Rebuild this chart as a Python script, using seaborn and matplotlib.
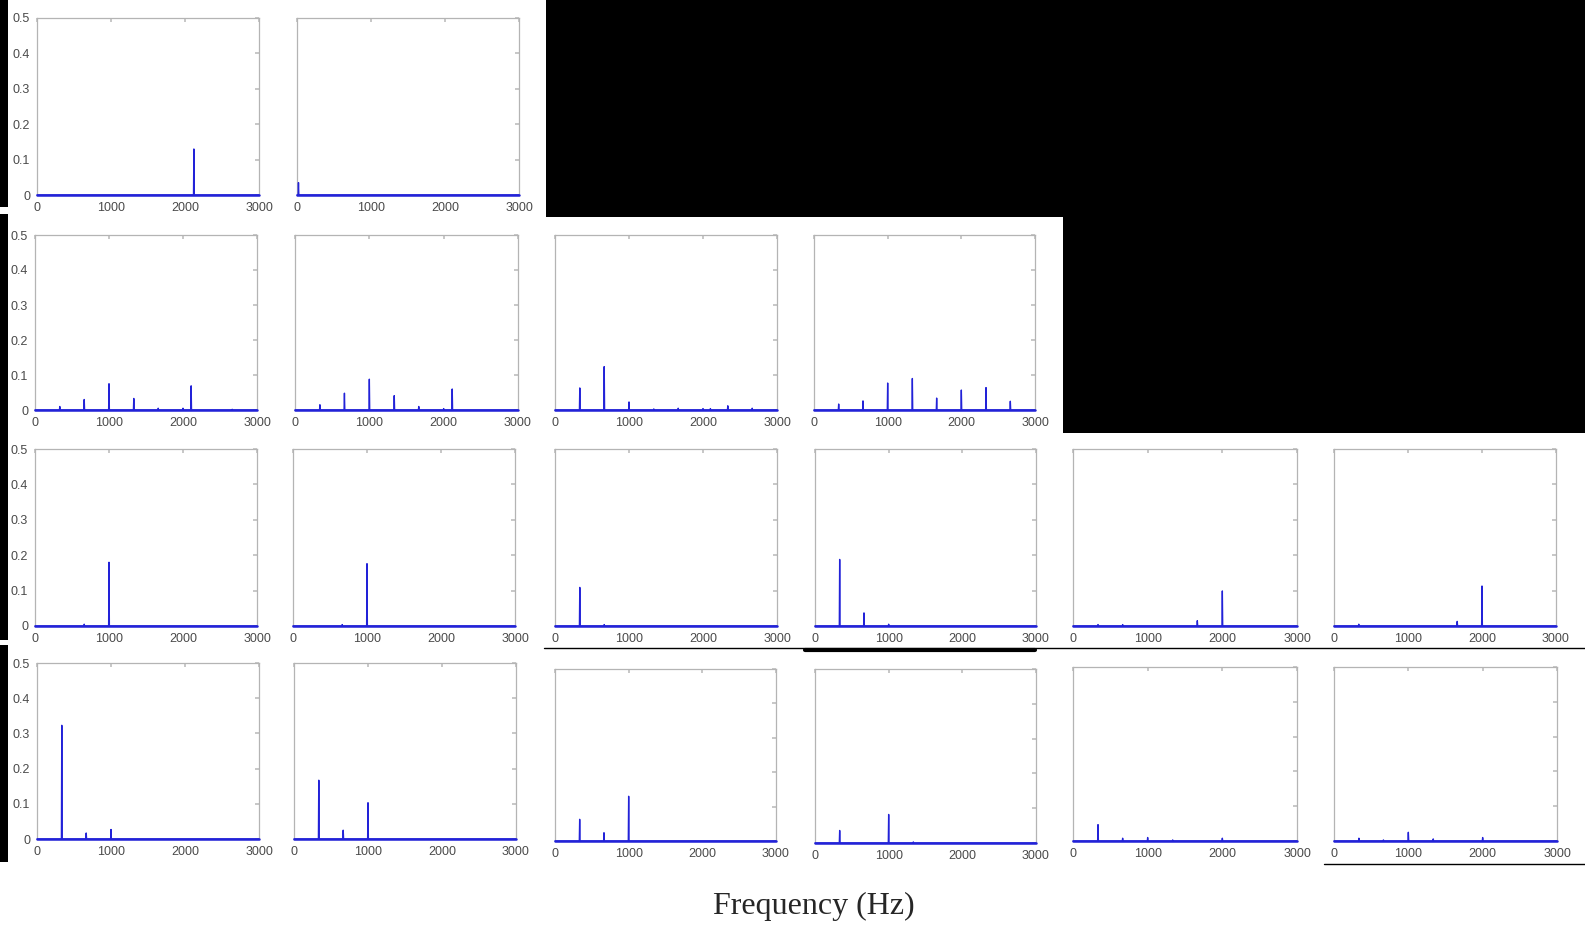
import numpy as np
import matplotlib
matplotlib.use("Agg")
import matplotlib.pyplot as plt
import seaborn as sns

sns.set_theme(style="white")
plt.rcParams['font.family'] = ['Liberation Sans', 'DejaVu Sans']

W, H = 1585, 930

# peak frequencies (Hz) and magnitudes, one inner list per panel
row1_freqs = [[2120], [20]]
row1_amps = [[0.13], [0.035]]

row2_freqs = [
    [333, 667, 1000, 1333, 1667, 2000, 2110, 2667],
    [333, 667, 1000, 1333, 1667, 2000, 2115],
    [333, 667, 1000, 1333, 1667, 2000, 2100, 2333, 2667],
    [333, 667, 1000, 1333, 1667, 2000, 2333, 2667],
]
row2_amps = [
    [0.010, 0.030, 0.075, 0.033, 0.005, 0.005, 0.069, 0.002],
    [0.015, 0.048, 0.088, 0.041, 0.010, 0.004, 0.060],
    [0.063, 0.124, 0.023, 0.003, 0.005, 0.004, 0.004, 0.012, 0.005],
    [0.017, 0.026, 0.077, 0.090, 0.034, 0.057, 0.064, 0.025],
]

row3_freqs = [
    [667, 1000],
    [667, 1000],
    [333, 667],
    [333, 667, 1000],
    [333, 667, 1667, 2000],
    [333, 1667, 2000],
]
row3_amps = [
    [0.005, 0.180],
    [0.004, 0.176],
    [0.109, 0.004],
    [0.188, 0.037, 0.005],
    [0.004, 0.004, 0.015, 0.099],
    [0.005, 0.013, 0.113],
]

row4_freqs = [
    [333, 667, 1000],
    [333, 667, 1000],
    [333, 667, 1000],
    [333, 1000, 1333],
    [333, 667, 1000, 1333, 2000],
    [333, 667, 1000, 1333, 2000],
]
row4_amps = [
    [0.323, 0.017, 0.027],
    [0.167, 0.025, 0.103],
    [0.063, 0.024, 0.130],
    [0.036, 0.082, 0.003],
    [0.047, 0.008, 0.010, 0.003, 0.008],
    [0.008, 0.003, 0.025, 0.006, 0.010],
]

x_ticks = [0, 1000, 2000, 3000]
y_ticks = [0, 0.1, 0.2, 0.3, 0.4, 0.5]
y_tick_labels = ['0', '0.1', '0.2', '0.3', '0.4', '0.5']
x_label = 'Frequency (Hz)'

# panel boxes in pixels: left, top, right, bottom
row1_boxes = [(37, 18, 259, 195), (297, 18, 519, 195)]
row2_boxes = [(35, 235, 257, 410), (295, 235, 518, 410),
              (555, 235, 777, 410), (814, 235, 1035, 410)]
row3_boxes = [(35, 449, 257, 626), (293, 449, 515, 626), (555, 449, 777, 626),
              (815, 449, 1036, 626), (1073, 449, 1297, 626), (1334, 449, 1556, 626)]
row4_boxes = [(37, 663, 259, 839), (294, 663, 516, 839), (555, 669, 776, 841),
              (815, 669, 1036, 843), (1073, 667, 1297, 841), (1334, 667, 1557, 841)]

freq_grid = np.arange(0, 3001, 5)
line_col = '#2222d8'


def spectrum(freqs, amps):
    spec = np.zeros_like(freq_grid, dtype=float)
    for f, a in zip(freqs, amps):
        spec[int(round(f / 5))] = a
    return spec


fig = plt.figure(figsize=(W / 100, H / 100), dpi=100)
fig.patch.set_facecolor('white')

# background layer for the collage's black blocks and rules
bg = fig.add_axes([0, 0, 1, 1])
bg.set_xlim(0, W)
bg.set_ylim(H, 0)
bg.axis('off')
for (x0, y0, x1, y1) in [(546, 0, W, 217), (1063, 217, W, 433),
                         (0, 0, 8, 207), (0, 214, 8, 640), (0, 645, 8, 862)]:
    bg.fill_between([x0, x1], y0, y1, color='black', lw=0)
bg.plot([544, W], [648, 648], color='black', lw=1)
bg.plot([805, 1035], [650, 650], color='black', lw=3)
bg.plot([1324, W], [864, 864], color='black', lw=1)


def draw_panel(box, freqs, amps, first_col):
    x0, y0, x1, y1 = box
    ax = fig.add_axes([x0 / W, 1 - y1 / H, (x1 - x0) / W, (y1 - y0) / H])
    sns.lineplot(x=freq_grid, y=spectrum(freqs, amps), ax=ax,
                 color=line_col, linewidth=1.0, estimator=None)
    ax.axhline(0, color=line_col, lw=1.8)
    for ln in ax.lines:
        ln.set_clip_on(False)
        ln.set_zorder(3)
    ax.set_xlim(0, 3000)
    ax.set_ylim(0, 0.5)
    ax.set_xticks(x_ticks)
    ax.set_xticklabels([str(t) for t in x_ticks])
    ax.set_yticks(y_ticks)
    if first_col:
        ax.set_yticklabels(y_tick_labels)
    else:
        ax.set_yticklabels([])
    ax.set_xlabel('')
    ax.set_ylabel('')
    ax.tick_params(direction='in', length=3, color='#c0c0c0', top=True, right=True,
                   labelsize=9, labelcolor='#4a4a4a', pad=5)
    for sp in ax.spines.values():
        sp.set_color('#b4b4b4')
        sp.set_linewidth(0.9)
    ax.set_facecolor('white')
    return ax


for boxes, fr, am in [(row1_boxes, row1_freqs, row1_amps),
                      (row2_boxes, row2_freqs, row2_amps),
                      (row3_boxes, row3_freqs, row3_amps),
                      (row4_boxes, row4_freqs, row4_amps)]:
    for i, box in enumerate(boxes):
        draw_panel(box, fr[i], am[i], i == 0)

fig.text(814 / W, 1 - 906 / H, x_label, ha='center', va='center',
         fontsize=23, family=['Liberation Serif', 'DejaVu Serif'])

fig.savefig('out.png', dpi=100, facecolor='white')
